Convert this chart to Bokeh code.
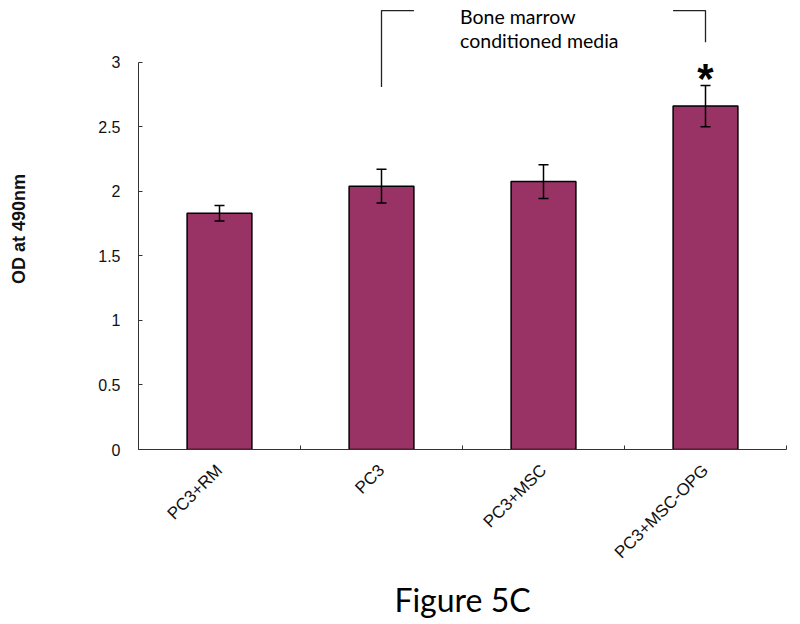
import math
from bokeh.plotting import figure
from bokeh.models import ColumnDataSource, FixedTicker, Whisker, TeeHead, Title, Range1d
from bokeh.core.properties import value
from bokeh.embed import file_html
from bokeh.resources import INLINE

categories = ["PC3+RM", "PC3", "PC3+MSC", "PC3+MSC-OPG"]
od_values = [1.83, 2.04, 2.075, 2.66]
od_errors = [0.06, 0.13, 0.13, 0.16]
y_ticks = [0, 0.5, 1, 1.5, 2, 2.5, 3]
bracket_text = ["Bone marrow", "conditioned media"]
significant = ["", "", "", "*"]
figure_caption = "Figure 5C"

xpos = [i + 0.5 for i in range(len(categories))]
src = ColumnDataSource(dict(
    x=xpos, top=od_values,
    lower=[v - e for v, e in zip(od_values, od_errors)],
    upper=[v + e for v, e in zip(od_values, od_errors)],
))

p = figure(width=800, height=624, output_backend="svg", toolbar_location=None,
           x_range=Range1d(0, len(categories)), y_range=Range1d(0, 3.416),
           min_border_left=138, min_border_right=14, min_border_top=8, min_border_bottom=173)
p.outline_line_color = None
p.xgrid.visible = False
p.ygrid.visible = False
p.background_fill_color = "white"

p.vbar(x="x", top="top", width=0.4, bottom=0, source=src,
       fill_color="#993366", line_color="black", line_width=1.5)

w = Whisker(base="x", lower="lower", upper="upper", source=src,
            line_color="black", line_width=1.5, level="overlay",
            upper_head=TeeHead(size=10, line_width=1.5, line_color="black"),
            lower_head=TeeHead(size=10, line_width=1.5, line_color="black"))
p.add_layout(w)

# significance star
star_src = ColumnDataSource(dict(x=xpos, y=[u + 0.1 for u in src.data["upper"]], t=significant))
p.text(x="x", y="y", text="t", source=star_src, text_align="center", text_baseline="middle",
       text_font=value("Liberation Sans"), text_font_style="bold", text_font_size="42px",
       text_color="black", y_offset=6)

# bracket for "Bone marrow conditioned media"
bx_left = xpos[1]
bx_right = xpos[3]
p.line(x=[bx_left, bx_left, bx_left + 0.2], y=[2.807, 3.40, 3.40], line_color="#222222", line_width=1.3)
p.line(x=[bx_right - 0.2, bx_right, bx_right], y=[3.40, 3.40, 3.154], line_color="#222222", line_width=1.3)
p.text(x=[1.985, 1.985], y=[3.355, 3.17], text=bracket_text, text_align="left", text_baseline="middle",
       text_font=value("Lato"), text_font_size="19.5px", text_color="black")

# axes
p.yaxis.ticker = FixedTicker(ticks=y_ticks)
p.yaxis.major_label_overrides = {0: "0", 1: "1", 2: "2", 3: "3"}
p.yaxis.bounds = (0, 3)
p.yaxis.major_tick_in = 4
p.yaxis.major_tick_out = 0
p.yaxis.minor_tick_line_color = None
p.yaxis.major_label_standoff = 18
p.yaxis.major_label_text_font = "Liberation Sans"
p.yaxis.major_label_text_font_size = "16px"
p.yaxis.major_label_text_color = "#111111"
p.yaxis.axis_label = "OD at 490nm"
p.yaxis.axis_label_text_font = "Liberation Sans"
p.yaxis.axis_label_text_font_style = "bold"
p.yaxis.axis_label_text_font_size = "18px"
p.yaxis.axis_label_text_color = "#111111"
p.yaxis.axis_label_standoff = 66
p.yaxis.axis_line_color = "#333333"
p.yaxis.major_tick_line_color = "#333333"

p.xaxis.ticker = FixedTicker(ticks=xpos, minor_ticks=[0, 1, 2, 3, 4])
p.xaxis.major_label_overrides = {x: c for x, c in zip(xpos, categories)}
p.xaxis.major_label_orientation = math.pi / 4
p.xaxis.major_tick_in = 0
p.xaxis.major_tick_out = 0
p.xaxis.minor_tick_in = 4
p.xaxis.minor_tick_out = 0
p.xaxis.major_label_standoff = 18
p.xaxis.major_label_text_font = "Liberation Sans"
p.xaxis.major_label_text_font_size = "17px"
p.xaxis.major_label_text_color = "#111111"
p.xaxis.axis_line_color = "#333333"
p.xaxis.minor_tick_line_color = "#333333"

cap = Title(text=figure_caption, align="center", text_font="Lato", text_font_size="32px",
            text_font_style="normal", text_color="black", standoff=12)
p.add_layout(cap, "below")

open("out.html", "w").write(file_html(p, INLINE))
